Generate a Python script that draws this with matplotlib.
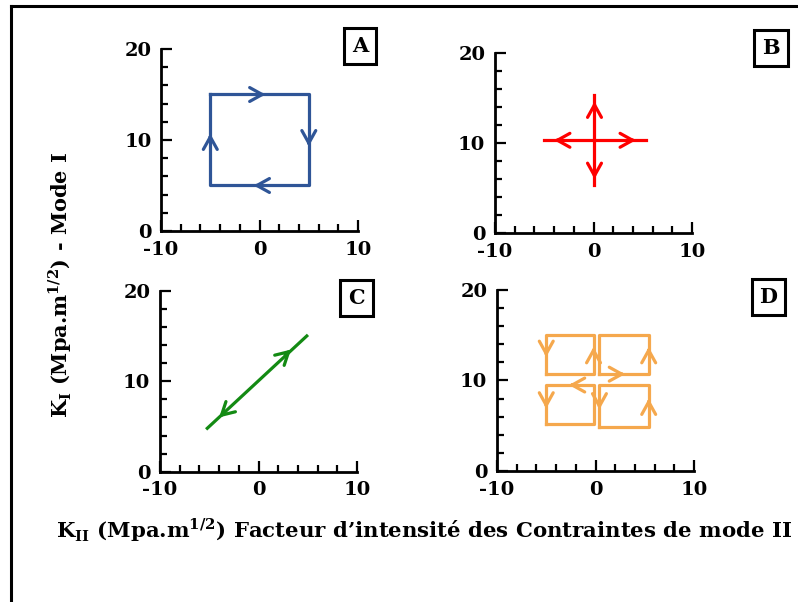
import matplotlib
matplotlib.use("Agg")
import matplotlib.pyplot as plt
from matplotlib.lines import Line2D
from matplotlib.ticker import MultipleLocator

plt.rcParams['font.family'] = 'DejaVu Serif'
plt.rcParams['font.weight'] = 'bold'
plt.rcParams['axes.unicode_minus'] = False
plt.rcParams['mathtext.fontset'] = 'custom'
plt.rcParams['mathtext.rm'] = 'DejaVu Serif:bold'
plt.rcParams['mathtext.bf'] = 'DejaVu Serif:bold'

# --- data (K_II on x, K_I on y) ---
# A: closed square loop, clockwise
a_x = [-5, 5, 5, -5, -5]
a_y = [15, 15, 5, 5, 15]
a_arrows = [(0.6, 15, 1, 0), (5, 9.3, 0, -1), (-0.6, 5, -1, 0), (-5, 10.7, 0, 1)]

# B: cross, mode I and mode II separately
b_hx = [-5.0, 5.3]
b_hy = [10.3, 10.3]
b_vx = [0.1, 0.1]
b_vy = [5.3, 15.3]
b_arrows = [(4.3, 10.3, 1, 0), (-4.0, 10.3, -1, 0), (0.1, 14.6, 0, 1), (0.1, 6.0, 0, -1)]

# C: proportional loading
c_x = [-5.2, 4.9]
c_y = [4.8, 15.0]
c_arrows = [(3.3, 13.5, 1, 1.01), (-4.0, 6.0, -1, -1.01)]

# D: four small loops
d_loops = {
    'tl': ([-5.0, -0.2], [10.7, 15.0]),
    'tr': ([0.4, 5.4], [10.7, 15.0]),
    'bl': ([-5.0, -0.2], [5.2, 9.5]),
    'br': ([0.4, 5.4], [4.9, 9.5]),
}
d_arrows = [(-5.0, 12.6, 0, -1), (-0.2, 13.7, 0, 1), (5.4, 13.7, 0, 1),
            (3.0, 10.7, 1, 0), (-2.7, 9.5, -1, 0),
            (-5.0, 6.9, 0, -1), (0.4, 6.8, 0, -1), (5.4, 8.0, 0, 1)]

colors = {'A': '#2F5597', 'B': '#FF0000', 'C': '#138A13', 'D': '#F5A84D'}
positions = {
    'A': [0.2018, 0.6163, 0.2469, 0.3023],
    'B': [0.6203, 0.6130, 0.2469, 0.2990],
    'C': [0.2005, 0.2164, 0.2469, 0.3007],
    'D': [0.6228, 0.2176, 0.2469, 0.3007],
}
box_pos = {'A': (0.451, 0.923), 'B': (0.966, 0.920), 'C': (0.447, 0.505), 'D': (0.963, 0.507)}

fig = plt.figure(figsize=(7.98, 6.02), dpi=100)


def draw_arrows(ax, arrows, color):
    for x, y, dx, dy in arrows:
        ax.annotate('', xy=(x, y), xytext=(x - 0.6 * dx, y - 0.6 * dy),
                    arrowprops=dict(arrowstyle='->,head_length=0.9,head_width=0.5',
                                    color=color, lw=2.3, shrinkA=0, shrinkB=0))


axes = {}
for key, pos in positions.items():
    ax = fig.add_axes(pos)
    ax.set_xlim(-10, 10)
    ax.set_ylim(0, 20)
    for s in ['top', 'right']:
        ax.spines[s].set_visible(False)
    for s in ['left', 'bottom']:
        ax.spines[s].set_linewidth(2)
    ax.xaxis.set_major_locator(MultipleLocator(10))
    ax.xaxis.set_minor_locator(MultipleLocator(2))
    ax.yaxis.set_major_locator(MultipleLocator(10))
    ax.yaxis.set_minor_locator(MultipleLocator(2))
    ax.tick_params(which='both', direction='in', width=1.6, labelsize=14, pad=7)
    ax.tick_params(which='major', length=8)
    ax.tick_params(which='minor', length=5)
    for lab in ax.get_xticklabels() + ax.get_yticklabels():
        lab.set_fontweight('bold')
    axes[key] = ax
    fig.text(box_pos[key][0], box_pos[key][1], key, fontsize=15, fontweight='bold',
             ha='center', va='center',
             bbox=dict(boxstyle='square,pad=0.38', facecolor='white', edgecolor='black', linewidth=2.2))

ax = axes['A']
ax.plot(a_x, a_y, color=colors['A'], lw=2.3)
draw_arrows(ax, a_arrows, colors['A'])

ax = axes['B']
ax.plot(b_hx, b_hy, color=colors['B'], lw=2.3)
ax.plot(b_vx, b_vy, color=colors['B'], lw=2.3)
draw_arrows(ax, b_arrows, colors['B'])

ax = axes['C']
ax.plot(c_x, c_y, color=colors['C'], lw=2.3)
draw_arrows(ax, c_arrows, colors['C'])

ax = axes['D']
for (x0, x1), (y0, y1) in d_loops.values():
    ax.plot([x0, x1, x1, x0, x0], [y0, y0, y1, y1, y0], color=colors['D'], lw=2.3)
draw_arrows(ax, d_arrows, colors['D'])

fig.text(0.075, 0.527, r'K$_{\mathrm{I}}$ (Mpa.m$^{1/2}$) - Mode I', rotation=90,
         ha='center', va='center', fontsize=15, fontweight='bold')
fig.text(0.531, 0.12, r'K$_{\mathrm{II}}$ (Mpa.m$^{1/2}$) Facteur d’intensité des Contraintes de mode II',
         ha='center', va='center', fontsize=15.3, fontweight='bold')

# outer frame (left and top only)
fig.add_artist(Line2D([0.0138, 0.0138], [0.0, 0.99], transform=fig.transFigure, color='black', lw=2.2))
fig.add_artist(Line2D([0.0138, 1.0], [0.99, 0.99], transform=fig.transFigure, color='black', lw=2.2))

fig.savefig('out.png', dpi=100)
